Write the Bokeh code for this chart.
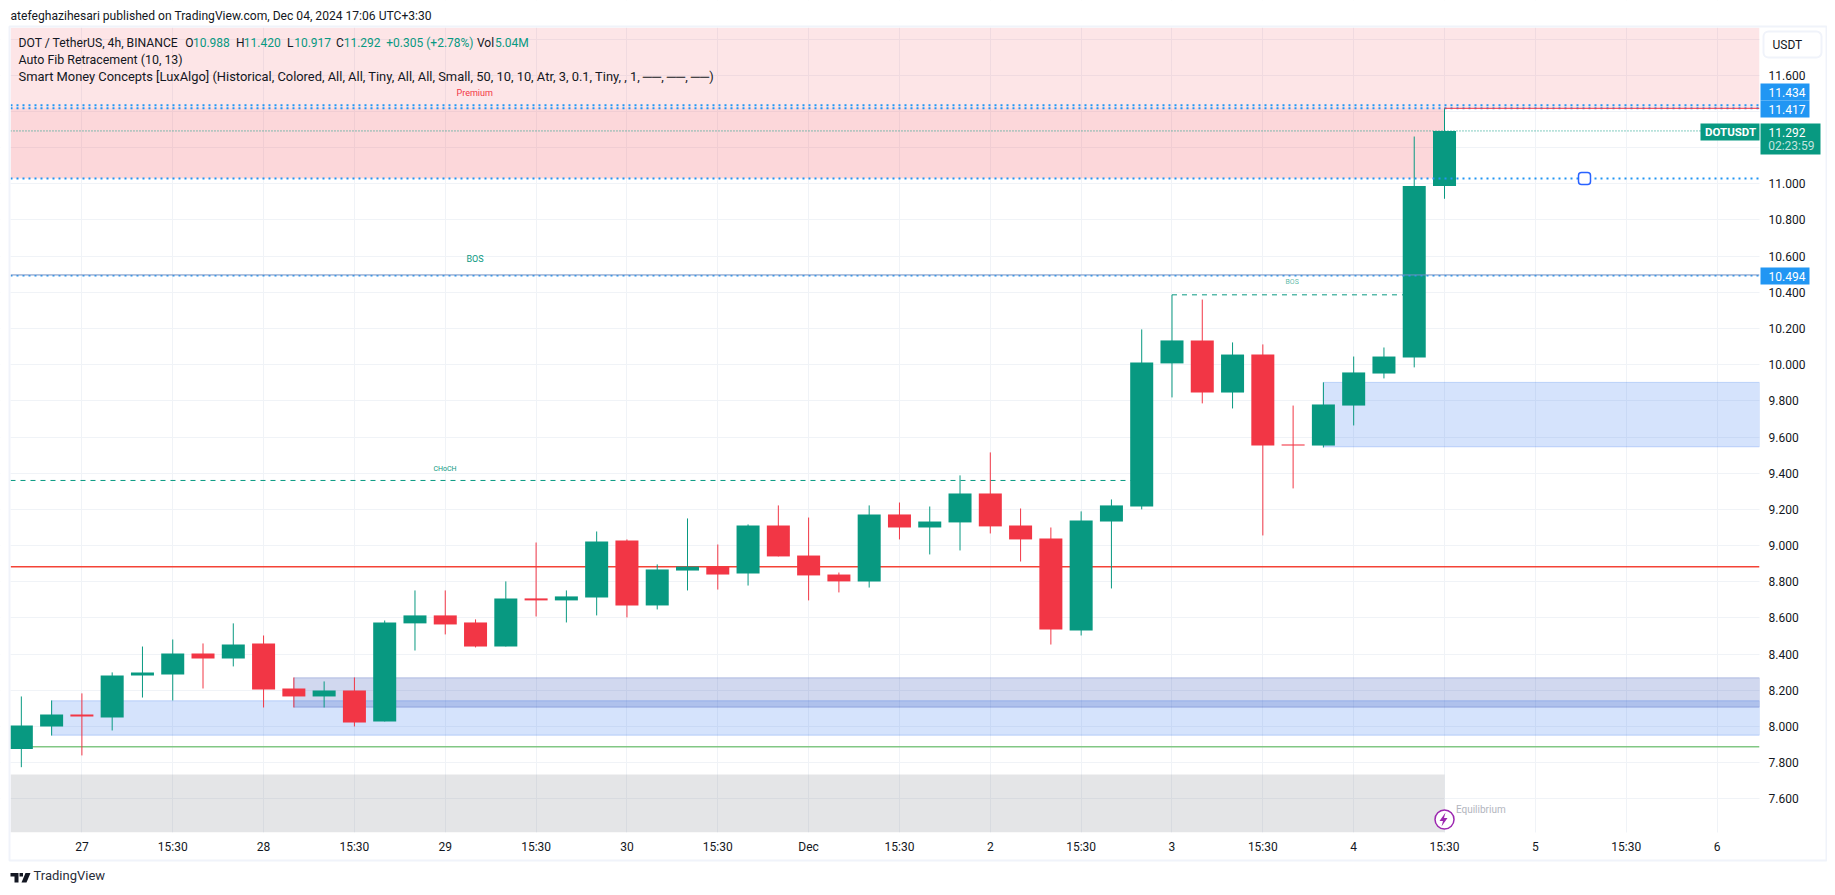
from bokeh.plotting import figure
from bokeh.embed import file_html
from bokeh.resources import INLINE
from bokeh.models import Range1d, FixedTicker, Label, BoxAnnotation, PolyAnnotation

# --- data ---
opens  = [7.875,8.000,8.066,8.050,8.282,8.288,8.404,8.376,8.459,8.210,8.166,8.199,8.028,8.570,8.614,8.575,8.442,8.708,8.697,8.713,
          9.028,8.669,8.862,8.884,8.846,9.111,8.945,8.840,8.802,9.172,9.100,9.128,9.288,9.111,9.039,8.531,9.133,9.216,10.007,10.134,
          9.846,10.056,9.559,9.553,9.774,9.951,10.040,10.988]
highs  = [8.166,8.144,8.183,8.299,8.442,8.481,8.459,8.570,8.503,8.271,8.249,8.271,8.586,8.752,8.752,8.592,8.802,9.017,8.752,9.078,
          9.034,8.896,9.150,9.006,9.117,9.222,9.155,8.851,9.222,9.238,9.216,9.388,9.515,9.205,9.100,9.189,9.255,10.195,10.386,10.360,
          10.123,10.112,9.774,9.902,10.045,10.095,11.261,11.420]
lows   = [7.775,7.950,7.840,7.978,8.160,8.144,8.210,8.332,8.105,8.105,8.105,8.000,8.028,8.420,8.509,8.437,8.442,8.608,8.575,8.614,
          8.603,8.647,8.752,8.757,8.779,8.940,8.697,8.741,8.768,9.034,8.951,8.973,9.067,8.912,8.453,8.503,8.763,9.200,9.819,9.786,
          9.758,9.056,9.316,9.542,9.664,9.924,9.985,10.917]
closes = [8.006,8.066,8.055,8.282,8.299,8.404,8.376,8.453,8.205,8.166,8.199,8.022,8.575,8.614,8.564,8.442,8.708,8.697,8.719,9.023,
          8.669,8.868,8.884,8.840,9.111,8.940,8.835,8.802,9.172,9.100,9.133,9.288,9.106,9.034,8.536,9.139,9.222,10.012,10.134,9.846,
          10.056,9.553,9.553,9.780,9.957,10.045,10.988,11.292]

y_ticks = [7.6,7.8,8.0,8.2,8.4,8.6,8.8,9.0,9.2,9.4,9.6,9.8,10.0,10.2,10.4,10.6,10.8,11.0,11.2,11.4,11.6,11.8]
y_tick_labels = ["7.600","7.800","8.000","8.200","8.400","8.600","8.800","9.000","9.200","9.400","9.600","9.800",
                 "10.000","10.200","10.400","10.600","10.800","11.000","","","11.600",""]
x_ticks = [2,5,8,11,14,17,20,23,26,29,32,35,38,41,44,47,50,53,56]
x_tick_labels = ["27","15:30","28","15:30","29","15:30","30","15:30","Dec","15:30","2","15:30","3","15:30","4","15:30","5","15:30","6"]

fib_top, fib_mid, fib_low = 11.434, 11.417, 11.029
bos_level = 10.494
choch_level, bos2_level = 9.360, 10.386
red_level, green_level = 8.883, 7.888
last_price = 11.292
zones_a = [(1, 7.952, 8.142), (43, 9.546, 9.902)]   # start bar, low, high
zone_b = (9, 8.107, 8.269)
gray_top = 7.735
marker_price = 7.486

# plot area in data units, and the whole canvas in the same units
X0, X1 = -0.358, 57.403
Y0, Y1 = 7.414, 11.864
CX0, CX1 = -0.688, 59.648
CY0, CY1 = 7.110, 12.013
H = 887

GREEN, RED, BLUE = "#089981", "#f23645", "#2196f3"
FONT = "Roboto"
INK = "#131722"
PURPLE = "#9c27b0"

p = figure(width=1827, height=H, output_backend="svg", toolbar_location=None,
           x_range=Range1d(CX0, CX1), y_range=Range1d(CY0, CY1), y_axis_location="right",
           min_border_left=0, min_border_right=0, min_border_top=0, min_border_bottom=0,
           outline_line_color=None, background_fill_color="white", border_fill_color="white")

for ax, t, lab in ((p.xaxis[0], x_ticks, x_tick_labels), (p.yaxis[0], y_ticks, y_tick_labels)):
    ax.ticker = FixedTicker(ticks=t)
    ax.major_label_overrides = {k: v for k, v in zip(t, lab)}
    ax.axis_line_color = None
    ax.major_tick_line_color = None
    ax.minor_tick_line_color = None
    ax.major_tick_out = 0
    ax.major_label_text_font = FONT
    ax.major_label_text_font_size = "12px"
    ax.major_label_text_color = INK
p.xaxis[0].fixed_location = Y0
p.yaxis[0].fixed_location = X1
p.xaxis[0].major_label_standoff = 7
p.yaxis[0].major_label_standoff = 9
for g in (p.xgrid[0], p.ygrid[0]):
    g.grid_line_color = "#f0f3f7"
    g.grid_line_width = 1
p.xgrid[0].ticker = FixedTicker(ticks=x_ticks)
p.ygrid[0].ticker = FixedTicker(ticks=y_ticks)

p.quad(left=[X0], right=[X1], bottom=[fib_mid], top=[Y1], fill_color=RED, fill_alpha=0.13, line_color=None)
p.quad(left=[X0], right=[47], bottom=[fib_low], top=[fib_mid], fill_color=RED, fill_alpha=0.2, line_color=None)
p.quad(left=[X0], right=[47], bottom=[Y0], top=[gray_top], fill_color="#787b86", fill_alpha=0.2, line_color=None)

for s, lo, hi in zones_a:
    p.quad(left=[s], right=[X1], bottom=[lo], top=[hi], fill_color="#2a70f0", fill_alpha=0.197,
           line_color="#2a70f0", line_alpha=0.25, line_width=1)
p.quad(left=[zone_b[0]], right=[X1], bottom=[zone_b[1]], top=[zone_b[2]], fill_color="#1a3bb0", fill_alpha=0.2,
       line_color="#1a3bb0", line_alpha=0.25, line_width=1)


def level(y, x0=X0, x1=X1, **kw):
    p.segment(x0=[x0], x1=[x1], y0=[y], y1=[y], **kw)


level(red_level, line_color="#f44336", line_width=1.5)
level(green_level, line_color="#81c784", line_width=1.5)
level(last_price, line_color=GREEN, line_width=1, line_dash="1 2")
level(choch_level, x1=37, line_color=GREEN, line_width=1, line_dash="5 5")
level(bos2_level, x0=38, x1=46, line_color=GREEN, line_width=1, line_dash="5 5")

idx = list(range(len(opens)))
cols = [GREEN if c >= o else RED for o, c in zip(opens, closes)]
p.segment(x0=idx, x1=idx, y0=lows, y1=highs, line_color=cols, line_width=1)
p.vbar(x=idx, width=0.76, bottom=[min(o, c) for o, c in zip(opens, closes)],
       top=[max(o, c) for o, c in zip(opens, closes)], fill_color=cols, line_color=None)

for lv in (fib_top, fib_mid, fib_low):
    level(lv, line_color=BLUE, line_width=2, line_dash="2 4")
level(bos_level - 0.003, line_color=BLUE, line_width=1.5, line_dash="2 4")
level(bos_level + 0.002, line_color="#6f8fc4", line_width=1)
level(fib_mid, x0=47, line_color=RED, line_width=1)

# white surround: keeps grid and candles inside the plot area
p.quad(left=[CX0, X1, CX0, CX0], right=[X0, CX1, CX1, CX1], bottom=[CY0, CY0, Y1, CY0], top=[CY1, CY1, CY1, Y0],
       fill_color="white", line_color=None)


def box(l, t, r, b, fill=None, line=None, lw=1, radius=0):
    p.add_layout(BoxAnnotation(left=l, right=r, top=t, bottom=b, left_units="canvas", right_units="canvas",
                               top_units="canvas", bottom_units="canvas", fill_color=fill,
                               fill_alpha=1 if fill else 0, line_color=line, line_width=lw, border_radius=radius,
                               line_alpha=1 if line else 0))


def poly(xs, ys, color):
    p.add_layout(PolyAnnotation(xs=xs, ys=ys, xs_units="canvas", ys_units="canvas", fill_color=color,
                                fill_alpha=1, line_color=None))


def text(x, y, s, color=INK, size=12.0, style="normal", font=FONT, alpha=1.0):
    p.add_layout(Label(x=x, y=H - y, x_units="screen", y_units="screen", text=s, text_color=color,
                       text_font=font, text_font_size=f"{size}px", text_baseline="middle",
                       text_align="left", text_font_style=style, text_alpha=alpha))


box(9, 26, 1826, 860, line="#f0f3fa", lw=2)

text(10, 15, "atefeghazihesari published on TradingView.com, Dec 04, 2024 17:06 UTC+3:30", size=12.1)
text(18, 42, "DOT / TetherUS, 4h, BINANCE", size=12.2)
for x, s, c in [(184.7, "O", INK), (192.4, "10.988", GREEN), (235.6, "H", INK), (243.3, "11.420", GREEN),
                (286.5, "L", INK), (293.7, "10.917", GREEN), (335.4, "C", INK), (343.2, "11.292", GREEN),
                (385.8, "+0.305 (+2.78%)", GREEN), (476.5, "Vol", INK), (494.4, "5.04M", GREEN)]:
    text(x, 42, s, color=c)
text(18, 59, "Auto Fib Retracement (10, 13)", size=12.4)
text(18, 76, "Smart Money Concepts [LuxAlgo] (Historical, Colored, All, All, Tiny, All, All, Small, 50, 10, 10, Atr, 3, 0.1, Tiny, , 1, \u2500\u2500, \u2500\u2500, \u2500\u2500)", size=12.9)

text(456, 92.7, "Premium", color=RED, size=9)
text(466, 258.7, "BOS", color=GREEN, size=9)
text(433, 468, "CHoCH", color=GREEN, size=7)
text(1285, 281.3, "BOS", color=GREEN, size=7, alpha=0.7)
text(1455.4, 808.7, "Equilibrium", color="#b2b5be", size=10)

box(1578, 172, 1590, 184, fill="white", line="#2962ff", lw=1.5, radius=3)

box(1763, 31, 1821, 57, fill="white", line="#f0f3fa", lw=2, radius=5)
text(1772, 44.3, "USDT")
box(1760, 83, 1809, 100, fill=BLUE)
box(1760, 100, 1809, 117, fill=BLUE)
box(1760, 267, 1809, 284, fill=BLUE)
box(1760, 123, 1820, 154, fill=GREEN)
box(1700, 123, 1759, 140, fill=GREEN)
text(1768, 91.7, "11.434", color="white")
text(1768, 108.7, "11.417", color="white")
text(1768, 275.5, "10.494", color="white")
text(1768, 131.5, "11.292", color="white")
text(1767.7, 145.3, "02:23:59", color="white", alpha=0.75)
text(1704.5, 131.5, "DOTUSDT", color="white", style="bold", size=11.5)

# lightning mark
p.scatter(x=[47], y=[marker_price], size=19, marker="circle", fill_color="white", line_color=PURPLE, line_width=1.5)
poly([1445, 1439, 1442.5, 1441, 1447, 1443.5], [812, 820.5, 820.5, 826, 817.5, 817.5], PURPLE)

# TradingView logo
poly([10, 18, 18, 14, 14, 10], [872.5, 872.5, 882, 882, 876, 876], INK)
poly([25, 30, 26, 21], [872.5, 872.5, 882, 882], INK)
poly([19, 22.5, 22.5, 19], [872.5, 872.5, 876, 876], INK)
text(33, 875, "TradingView", size=13, color="#2a2e39")

open("out.html", "w").write(file_html(p, INLINE))
